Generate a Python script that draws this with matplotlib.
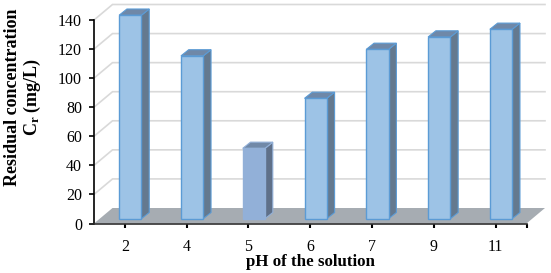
import matplotlib
matplotlib.use("Agg")
import matplotlib.pyplot as plt
from matplotlib.patches import Polygon

plt.rcParams['font.family'] = ['Liberation Serif', 'DejaVu Serif']
plt.rcParams['mathtext.fontset'] = 'custom'
plt.rcParams['mathtext.bf'] = 'Liberation Serif:bold'
plt.rcParams['mathtext.rm'] = 'Liberation Serif:bold'
plt.rcParams['mathtext.it'] = 'Liberation Serif:bold'

ph_labels = ["2", "4", "5", "6", "7", "9", "11"]
residual = [140, 112, 48.4, 82.8, 116.5, 125, 130.3]
y_ticks = [0, 20, 40, 60, 80, 100, 120, 140]

W, H = 551, 273
fig = plt.figure(figsize=(W / 100, H / 100), dpi=100)
# axes = front plane of the fake 3d box, in pixels
left, right, bottom, top = 94, 526.5, 223.5, 20
ax = fig.add_axes([left / W, 1 - bottom / H, (right - left) / W, (bottom - top) / H])
ax.set_xlim(-0.5, 6.5)
ax.set_ylim(0, 140)
ax.patch.set_alpha(0)

xpx = (right - left) / 7
ypx = (bottom - top) / 140
# depth of the box, depth of a bar, shift of bars into the floor
box_dx, box_dy = 18.5 / xpx, 15.5 / ypx
bar_dx, bar_dy = 7.8 / xpx, 6.2 / ypx
off_x, off_y = 5.4 / xpx, 4.8 / ypx
bar_w = 22.3 / xpx

# floor
ax.add_patch(Polygon([(-0.5, 0), (6.5, 0), (6.5 + box_dx, box_dy), (-0.5 + box_dx, box_dy)],
                     closed=True, fc="#a6acb2", ec="none", clip_on=False, zorder=1))
# walls gridlines
for v in y_ticks[1:]:
    ax.plot([-0.5, -0.5 + box_dx, 6.5 + box_dx], [v, v + box_dy, v + box_dy],
            color="#d9d9d9", lw=1.2, clip_on=False, zorder=1, solid_joinstyle="miter")

for i, v in enumerate(residual):
    if i == 2:
        face, edge, topc, side = "#92b0d8", "#92b0d8", "#7189a8", "#5f7089"
    else:
        face, edge, topc, side = "#9dc3e6", "#5b9bd5", "#6f88a8", "#64798f"
    x0 = i + off_x - bar_w / 2
    x1 = i + off_x + bar_w / 2
    y0 = off_y
    y1 = off_y + v
    ax.add_patch(Polygon([(x1, y0), (x1 + bar_dx, y0 + bar_dy), (x1 + bar_dx, y1 + bar_dy), (x1, y1)],
                         closed=True, fc=side, ec=edge, lw=0.8, clip_on=False, zorder=3))
    ax.add_patch(Polygon([(x0, y1), (x1, y1), (x1 + bar_dx, y1 + bar_dy), (x0 + bar_dx, y1 + bar_dy)],
                         closed=True, fc=topc, ec=edge, lw=0.8, clip_on=False, zorder=3))
    ax.bar(i + off_x, v, bar_w, bottom=off_y, color=face, edgecolor=edge, linewidth=1.0,
           clip_on=False, zorder=4)

for s in ["top", "right"]:
    ax.spines[s].set_visible(False)
ax.spines["left"].set_linewidth(1.2)
ax.spines["bottom"].set_linewidth(1.2)
ax.spines["bottom"].set_color("#303030")
ax.spines["left"].set_zorder(5)
ax.spines["bottom"].set_zorder(5)

ax.set_yticks(y_ticks)
ax.set_xticks(range(7), ph_labels)
ax.set_xticks([6.5], minor=True)
ax.tick_params(axis="y", length=3.6, width=1.2, labelsize=11.5, pad=5)
ax.tick_params(axis="x", length=3, width=1.5, labelsize=11.5, pad=8.5)
ax.tick_params(axis="x", which="minor", length=3, width=1.5)

fig.text(310 / W, 1 - 262 / H, "pH of the solution", fontsize=12.2, fontweight="bold",
         ha="center", va="center")
fig.text(12.5 / W, 1 - 97.5 / H, "Residual concentration", fontsize=13, fontweight="bold",
         rotation=90, ha="center", va="center")
fig.text(32 / W, 1 - 97 / H, r"$\mathbf{C}_{\mathbf{r}}$ (mg/L)", fontsize=13, fontweight="bold",
         rotation=90, ha="center", va="center")

fig.savefig("out.png", dpi=100)
